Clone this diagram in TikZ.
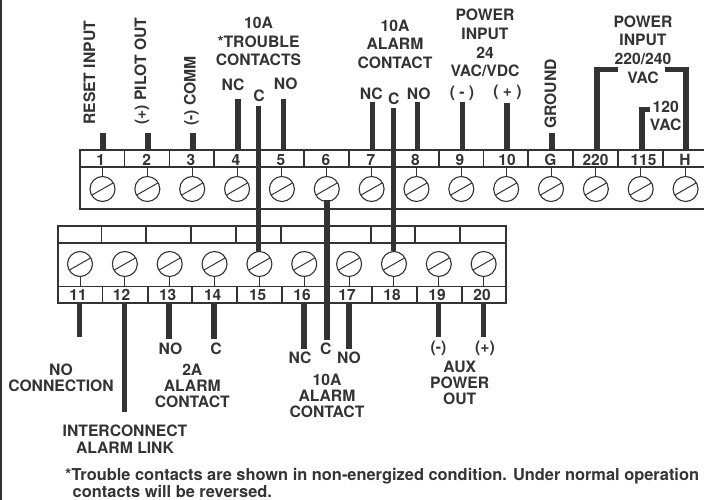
\documentclass[tikz,border=0pt]{standalone}
\usepackage{fontspec}
\setmainfont{TeX Gyre Heros}
\usetikzlibrary{calc}
\definecolor{ink}{gray}{0.2}
\tikzset{
  x=1bp,y=-1bp,
  outline/.style={draw=ink,line width=1.3bp},
  thinline/.style={draw=ink,line width=1bp},
  wire/.style={draw=ink,line width=5.2bp},
  lbl/.style={font=\fontsize{15.7bp}{18.6bp}\selectfont\bfseries,text=ink,inner sep=0pt,align=center},
  lbltight/.style={font=\fontsize{15.7bp}{16.2bp}\selectfont\bfseries,text=ink,inner sep=0pt,align=center},
  note/.style={font=\fontsize{16.4bp}{17.5bp}\selectfont\bfseries,text=ink,inner sep=0pt,align=left},
  num/.style={font=\fontsize{15.5bp}{16bp}\selectfont\bfseries,text=ink,inner sep=0pt},
  screwhead/.style={circle,draw=ink,line width=1.1bp,minimum size=25bp,inner sep=0pt,fill=white},
}
\newcommand{\screwslot}[1]{\draw[thinline] ($(#1)+(-10.5,6)$) -- ($(#1)+(10.5,-6)$);}
\begin{document}
\begin{tikzpicture}
\useasboundingbox (0,0) rectangle (704,500);
\draw[outline] (1,-2) -- (1,502);
% upper strip
\draw[outline] (705,150) -- (80,150) -- (80,209) -- (705,209);
\draw[outline] (80,167) -- (705,167);
\foreach \x in {124.5,169.5,214,259,304,349,394,439,483.5,528,573,618,663}
  \draw[outline] (\x,150) -- (\x,167);
\foreach \i/\t/\nx in {0/1/100.7,1/2/146.7,2/3/191,3/4/236,4/5/281,5/6/326,6/7/371,7/8/415.5,8/9/460,9/10/507,10/G/550.5,11/220/595.5,12/115/643.5,13/H/685}{
  \coordinate (s\t) at ({102.5+44.85*\i},189);
  \node[num] (n\t) at (\nx,160) {\t};
  \draw[thinline] (s\t) ++(0,-12) -- ++(0,-9);
  \node[screwhead] (h\t) at (s\t) {};
  \screwslot{s\t}
}
% lower strip
\draw[outline] (58,226) rectangle (506,303);
\draw[outline] (58,243) -- (506,243);
\draw[outline] (58,286.5) -- (506,286.5);
\foreach \x in {101.5,146,191,236,281,326,371,415,460}
  \draw[outline] (\x,226) -- (\x,243);
\foreach \x in {102.5,148,192,237,282,327,372,417,462}
  \draw[outline] (\x,286.5) -- (\x,303);
\foreach \i/\t/\nx in {0/11/78,1/12/121.5,2/13/167.7,3/14/212.7,4/15/257.7,5/16/302,6/17/347,7/18/392,8/19/437,9/20/482}{
  \coordinate (s\t) at ({80+44.85*\i},264);
  \node[num] (n\t) at (\nx,295) {\t};
  \draw[thinline] (s\t) ++(0,12) -- ++(0,10.5);
  \node[screwhead] (h\t) at (s\t) {};
  \screwslot{s\t}
}
% named wire ends
\coordinate (t1) at (103,133);\coordinate (b1) at (103,150);
\coordinate (t2) at (148,133);\coordinate (b2) at (148,150);
\coordinate (t3) at (193,133);\coordinate (b3) at (193,150);
\coordinate (t4) at (238,99);\coordinate (b4) at (238,150);
\coordinate (t5) at (283.3,99);\coordinate (b5) at (283.3,150);
\coordinate (t7) at (372.3,102);\coordinate (b7) at (372.3,150);
\coordinate (t8) at (417.3,102);\coordinate (b8) at (417.3,150);
\coordinate (t9) at (462.3,102);\coordinate (b9) at (462.3,150);
\coordinate (t10) at (507,103);\coordinate (b10) at (507,150);
\coordinate (tG) at (552,133);\coordinate (bG) at (552,150);
\foreach \w in {1,2,3,4,5,7,8,9,10,G} \draw[wire] (t\w) -- (b\w);
\coordinate (a220) at (618,69.5);\coordinate (b220) at (597,150);
\draw[wire] (a220) -| (b220);
\coordinate (aH) at (665,69.5);\coordinate (bH) at (686,150);
\draw[wire] (aH) -| (bH);
\coordinate (a115) at (650,109.5);\coordinate (b115) at (642,150);
\draw[wire] (a115) -| (b115);
% through wires
\coordinate (tC1) at (258.5,106);\coordinate (e15) at (258.5,252);
\draw[wire] (tC1) -- (e15);
\coordinate (tC2) at (393.3,108);\coordinate (e18) at (393.3,251);
\draw[wire] (tC2) -- (e18);
\coordinate (e6) at (327,200.5);\coordinate (bC6) at (327,340);
\draw[wire] (e6) -- (bC6);
% lower wires
\foreach \x/\e in {79.5/337,124.5/412,169/339,214/339,304/349,349/349,438.7/337,483.5/337}{
  \coordinate (w1) at (\x,303.5);\coordinate (w2) at (\x,\e);
  \draw[wire] (w1) -- (w2);
}
% rotated labels
\node[lbl,rotate=90,anchor=base west] (lreset) at (95,125) {RESET INPUT};
\node[lbl,rotate=90,anchor=base west] (lpilot) at (146,125) {(+) PILOT OUT};
\node[lbl,rotate=90,anchor=base west] (lcomm) at (195.5,126) {(-) COMM};
\node[lbl,rotate=90,anchor=base west] (lgnd) at (556,129) {GROUND};
% top labels
\node[lbl] (ltr) at (258.5,41.7) {10A\\*TROUBLE\\CONTACTS};
\node[lbl] (lnc4) at (233,84.5) {NC};
\node[lbl] (lc4) at (259,96) {C};
\node[lbl] (lno5) at (285.7,84) {NO};
\node[lbl] (lal) at (395,44) {10A\\ALARM\\CONTACT};
\node[lbl] (lnc7) at (371.3,94) {NC};
\node[lbl] (lc7) at (393.7,98.5) {C};
\node[lbl] (lno8) at (418.7,94) {NO};
\node[lbl] (lpw) at (485,43) {POWER\\INPUT\\24\\VAC/VDC};
\node[lbl] (lm9) at (462,93) {(~-~)};
\node[lbl] (lp10) at (507.5,92) {(~+~)};
\node[lbl] (lpw2) at (643,49.5) {POWER\\INPUT\\220/240\\VAC};
\node[lbl] (l120) at (665.7,116) {120\\VAC};
% bottom labels
\node[lbltight] (lnocon) at (61,377.7) {NO\\CONNECTION};
\node[lbl] (lno13) at (170.5,348.5) {NO};
\node[lbl] (lc14) at (216,348.5) {C};
\node[lbltight] (l2a) at (192.3,386) {2A\\ALARM\\CONTACT};
\node[lbl] (lnc16) at (300,358) {NC};
\node[lbl] (lc6) at (325.7,348.5) {C};
\node[lbl] (lno17) at (349,358) {NO};
\node[lbltight] (l10a) at (327,396) {10A\\ALARM\\CONTACT};
\node[lbl] (lm19) at (438.5,348) {(-)};
\node[lbl] (lp20) at (485,348) {(+)};
\node[lbltight] (laux) at (459.7,383) {AUX\\POWER\\OUT};
\node[lbl,font=\fontsize{15.7bp}{17bp}\selectfont\bfseries] (llink) at (125,439.5) {INTERCONNECT\\ALARM LINK};
\node[note,anchor=west] (lnote) at (65,483) {*Trouble contacts are shown in non-energized condition. Under normal operation\\\hspace*{7.5bp}contacts will be reversed.};
\end{tikzpicture}
\end{document}
